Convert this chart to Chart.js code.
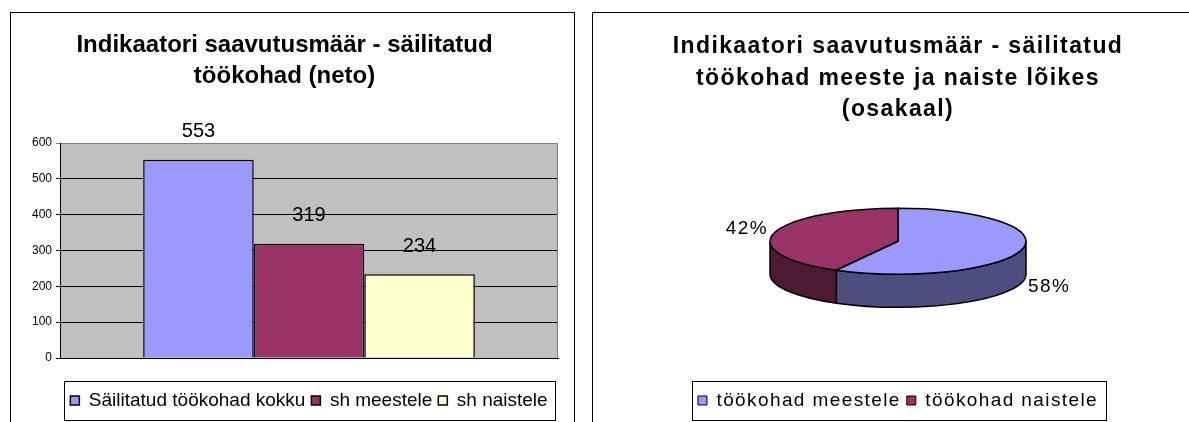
<!DOCTYPE html>
<html>
<head>
<meta charset="utf-8">
<script src="https://cdn.jsdelivr.net/npm/chart.js@4.4.0/dist/chart.umd.min.js"></script>
<style>
  html, body { margin: 0; padding: 0; background: #fff; overflow: hidden; }
  body { width: 1189px; height: 422px; position: relative; }
  .box { position: absolute; top: 12px; height: 411px; box-sizing: border-box; border: 1px solid #000; border-bottom: none; background: #fff; }
  #leftBox { left: 10px; width: 565px; }
  #rightBox { left: 592px; width: 612px; }
  canvas { display: block; }
</style>
</head>
<body>
<div class="box" id="leftBox"><canvas id="barChart"></canvas></div>
<div class="box" id="rightBox"><canvas id="pieChart"></canvas></div>
<script>
// left chart
const barTitle = ['Indikaatori saavutusmäär - säilitatud', 'töökohad (neto)'];
const barSeries = ['Säilitatud töökohad kokku', 'sh meestele', 'sh naistele'];
const barValues = [553, 319, 234];
const barColours = ['#9999ff', '#993366', '#ffffcc'];
const yMax = 600;
const yStep = 100;

// right chart
const pieTitle = ['Indikaatori saavutusmäär - säilitatud', 'töökohad meeste ja naiste lõikes', '(osakaal)'];
const pieLabels = ['töökohad meestele', 'töökohad naistele'];
const pieShares = [58, 42];
const pieColours = ['#9999ff', '#993366'];
const pieSideColours = ['#4d4d80', '#4d1a33'];

// grey plot area like the old excel charts
const plotBackground = {
  id: 'plotBackground',
  beforeDraw(chart) {
    const { ctx, chartArea: a } = chart;
    ctx.save();
    ctx.fillStyle = '#c0c0c0';
    ctx.fillRect(a.left, a.top, a.right - a.left, a.bottom - a.top);
    ctx.restore();
  },
  beforeDatasetsDraw(chart) {
    const { ctx, chartArea: a } = chart;
    ctx.save();
    ctx.strokeStyle = '#808080';
    ctx.lineWidth = 1;
    ctx.beginPath();
    ctx.moveTo(a.right - 0.5, a.top);
    ctx.lineTo(a.right - 0.5, a.bottom);
    ctx.stroke();
    ctx.restore();
  }
};

const barValueLabels = {
  id: 'barValueLabels',
  afterDatasetsDraw(chart) {
    const ctx = chart.ctx;
    ctx.save();
    ctx.font = '20px Arial';
    ctx.fillStyle = '#000';
    ctx.textAlign = 'center';
    ctx.textBaseline = 'middle';
    chart.data.datasets.forEach((ds, i) => {
      chart.getDatasetMeta(i).data.forEach((bar, j) => {
        ctx.fillText(ds.data[j], bar.x, bar.y - 28);
      });
    });
    ctx.restore();
  }
};

// box round the legend
const legendFrame = {
  id: 'legendFrame',
  afterDraw(chart) {
    const boxes = chart.legend.legendHitBoxes;
    if (!boxes || !boxes.length) return;
    const ctx = chart.ctx;
    const left = Math.min(...boxes.map(b => b.left)) - 6;
    const right = Math.max(...boxes.map(b => b.left + b.width)) + 8;
    const top = boxes[0].top - 10;
    const bottom = boxes[0].top + boxes[0].height + 10;
    ctx.save();
    ctx.strokeStyle = '#000';
    ctx.lineWidth = 1;
    ctx.strokeRect(Math.round(left) + 0.5, Math.round(top) + 0.5, Math.round(right - left), Math.round(bottom - top));
    ctx.restore();
  }
};

const spacedText = {
  id: 'spacedText',
  beforeLayout(chart, args, opts) { chart.ctx.letterSpacing = opts.spacing; },
  beforeDraw(chart, args, opts) { chart.ctx.letterSpacing = opts.spacing; }
};

// fake 3d: squash the pie and draw its front wall
const pie3d = {
  id: 'pie3d',
  beforeDatasetsDraw(chart, args, opts) {
    const ctx = chart.ctx;
    const arcs = chart.getDatasetMeta(0).data;
    const cx = arcs[0].x, cy0 = arcs[0].y, r = arcs[0].outerRadius;
    const cy = cy0 - opts.lift;
    const ry = r * opts.tilt;
    arcs.forEach((arc, i) => {
      const a0 = Math.max(arc.startAngle, 0);
      const a1 = Math.min(arc.endAngle, Math.PI);
      if (a1 <= a0) return;
      ctx.beginPath();
      ctx.ellipse(cx, cy, r, ry, 0, a0, a1);
      ctx.lineTo(cx + r * Math.cos(a1), cy + ry * Math.sin(a1) + opts.depth);
      ctx.ellipse(cx, cy + opts.depth, r, ry, 0, a1, a0, true);
      ctx.closePath();
      ctx.fillStyle = opts.sideColours[i];
      ctx.fill();
      ctx.lineWidth = 1.5;
      ctx.strokeStyle = '#000';
      ctx.stroke();
    });
    ctx.save();
    ctx.translate(cx, cy);
    ctx.scale(1, opts.tilt);
    ctx.translate(-cx, -cy0);
  },
  afterDatasetsDraw(chart, args, opts) {
    const ctx = chart.ctx;
    ctx.restore();
    const arcs = chart.getDatasetMeta(0).data;
    const cx = arcs[0].x, cy = arcs[0].y - opts.lift, r = arcs[0].outerRadius;
    const ry = r * opts.tilt;
    ctx.save();
    ctx.lineWidth = 1.5;
    ctx.strokeStyle = '#000';
    arcs.forEach(arc => {
      ctx.beginPath();
      ctx.moveTo(cx, cy);
      ctx.ellipse(cx, cy, r, ry, 0, arc.startAngle, arc.endAngle);
      ctx.closePath();
      ctx.stroke();
    });
    ctx.font = '19px Arial';
    ctx.fillStyle = '#000';
    ctx.textAlign = 'center';
    ctx.textBaseline = 'middle';
    const values = chart.data.datasets[0].data;
    arcs.forEach((arc, i) => {
      const mid = (arc.startAngle + arc.endAngle) / 2;
      const s = Math.sin(mid), c = Math.cos(mid);
      const lx = cx + (r + 28) * c;
      const ly = cy + ry * s + (s > 0 ? opts.depth + 4 : -4);
      ctx.fillText(values[i] + '%', lx, ly);
    });
    ctx.restore();
  }
};

new Chart(document.getElementById('barChart'), {
  type: 'bar',
  data: {
    labels: [''],
    datasets: barSeries.map((name, i) => ({
      label: name,
      data: [barValues[i]],
      backgroundColor: barColours[i],
      borderColor: '#000',
      borderWidth: 1.5,
      categoryPercentage: 0.666,
      barPercentage: 1
    }))
  },
  options: {
    responsive: true,
    maintainAspectRatio: false,
    animation: false,
    layout: { padding: { left: 0, right: 16, top: 0, bottom: 3 } },
    scales: {
      x: {
        ticks: { display: false },
        grid: { display: false },
        border: { display: true, color: '#000', width: 1 },
        afterFit: s => { s.height = 27; }
      },
      y: {
        min: 0,
        max: yMax,
        ticks: { stepSize: yStep, color: '#000', font: { family: 'Arial', size: 12 }, padding: 4 },
        grid: {
          color: c => (c.tick && c.tick.value === yMax ? '#808080' : '#000'),
          tickLength: 4,
          lineWidth: 1
        },
        border: { color: '#000', width: 1 },
        afterFit: s => { s.width = 49; }
      }
    },
    plugins: {
      title: {
        display: true,
        text: barTitle,
        color: '#000',
        font: { family: 'Arial', size: 24, weight: 'bold', lineHeight: '31px' },
        padding: { top: 17, bottom: 51 }
      },
      legend: {
        position: 'bottom',
        fullSize: false,
        labels: { color: '#000', font: { family: 'Arial', size: 19 }, boxWidth: 9, boxHeight: 9, padding: 6 }
      },
      tooltip: { enabled: false }
    }
  },
  plugins: [plotBackground, barValueLabels, legendFrame]
});

new Chart(document.getElementById('pieChart'), {
  type: 'pie',
  data: {
    labels: pieLabels,
    datasets: [{
      data: pieShares,
      backgroundColor: pieColours,
      borderWidth: 0,
      radius: 128,
      clip: false
    }]
  },
  options: {
    responsive: true,
    maintainAspectRatio: false,
    animation: false,
    layout: { padding: { bottom: 3 } },
    plugins: {
      title: {
        display: true,
        text: pieTitle,
        color: '#000',
        font: { family: 'Arial', size: 23, weight: 'bold', lineHeight: '31.5px' },
        padding: { top: 18, bottom: 0 }
      },
      legend: {
        position: 'bottom',
        labels: {
          color: '#000',
          font: { family: 'Arial', size: 19 },
          boxWidth: 9,
          boxHeight: 9,
          padding: 6,
          generateLabels: chart => Chart.overrides.pie.plugins.legend.labels.generateLabels(chart)
            .map(item => Object.assign(item, { strokeStyle: '#000', lineWidth: 1 }))
        }
      },
      tooltip: { enabled: false },
      spacedText: { spacing: '1.4px' },
      pie3d: { tilt: 33 / 128, depth: 33, lift: 14, sideColours: pieSideColours }
    }
  },
  plugins: [spacedText, pie3d, legendFrame]
});
</script>
</body>
</html>
